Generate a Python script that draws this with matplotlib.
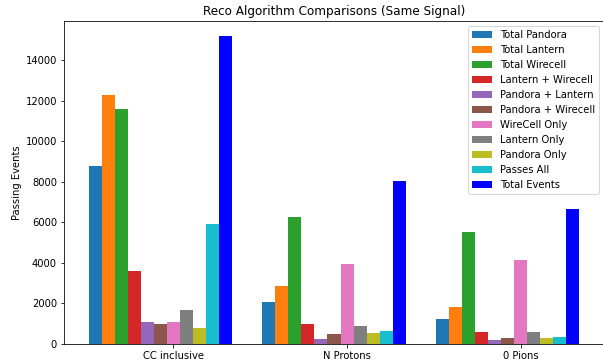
import matplotlib.pyplot as plt
import numpy as np

# selections along the x axis
selections = ["CC inclusive", "N Protons", "0 Pions"]

# passing event counts per reco category, one value per selection
total_pandora = [8800, 2090, 1230]
total_lantern = [12310, 2880, 1850]
total_wirecell = [11600, 6260, 5530]
lantern_wirecell = [3620, 1010, 600]
pandora_lantern = [1070, 250, 180]
pandora_wirecell = [1000, 500, 310]
wirecell_only = [1070, 3960, 4140]
lantern_only = [1680, 890, 600]
pandora_only = [790, 560, 280]
passes_all = [5910, 630, 360]
total_events = [15190, 8050, 6660]

labels = ["Total Pandora", "Total Lantern", "Total Wirecell", "Lantern + Wirecell",
          "Pandora + Lantern", "Pandora + Wirecell", "WireCell Only", "Lantern Only",
          "Pandora Only", "Passes All", "Total Events"]
series = [total_pandora, total_lantern, total_wirecell, lantern_wirecell,
          pandora_lantern, pandora_wirecell, wirecell_only, lantern_only,
          pandora_only, passes_all, total_events]
colors = [f"C{i}" for i in range(10)] + ["blue"]

fig, ax = plt.subplots(figsize=(603 / 72, 360 / 72), dpi=72)
# right spine sits just past the edge of the canvas
fig.subplots_adjust(left=64 / 603, right=604 / 603, top=1 - 21 / 360, bottom=1 - 344 / 360)

x = np.arange(len(selections))
width = 0.075
for i, (vals, lab, col) in enumerate(zip(series, labels, colors)):
    ax.bar(x + (i - 6) * width, vals, width, label=lab, color=col)

ax.set_xticks(x)
ax.set_xticklabels(selections)
ax.set_ylabel("Passing Events")
ax.set_title("Reco Algorithm Comparisons (Same Signal)")
ax.legend(loc="upper right")

fig.savefig("out.png", dpi=72)
